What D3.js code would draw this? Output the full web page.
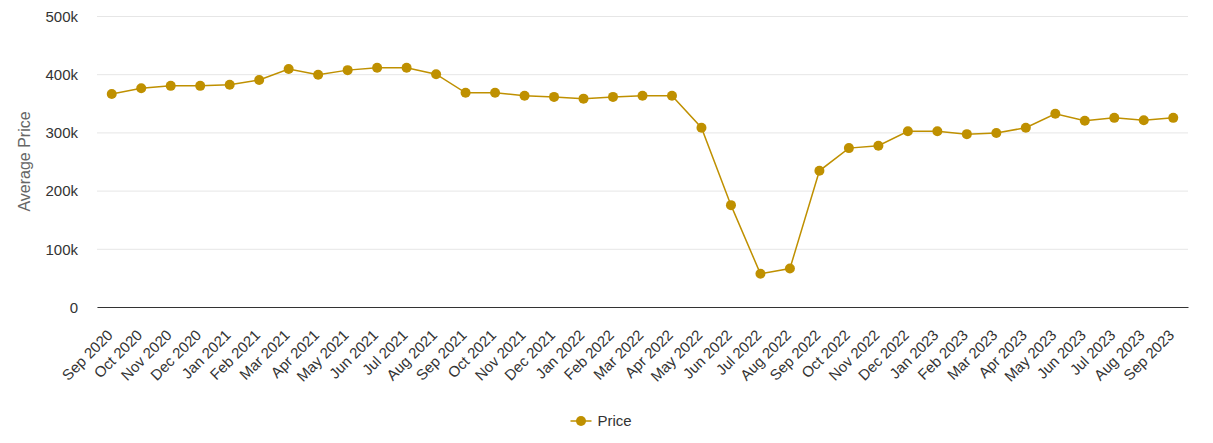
<!DOCTYPE html>
<html lang="en">
<head>
    <meta charset="UTF-8">
    <title>Average Price</title>
    <style>
        body { margin: 0; background: #fff; }
        text { font-family: "Liberation Sans", Arial, sans-serif; }
        .tick text { font-size: 15px; fill: #333; }
        .axis-label { font-size: 16px; fill: #666; }
    </style>
</head>
<body>
    <svg width="1213" height="443"></svg>

    <script src="https://d3js.org/d3.v7.min.js"></script>
    <script>
        const months = [
            'Sep 2020', 'Oct 2020', 'Nov 2020', 'Dec 2020', 'Jan 2021', 'Feb 2021',
            'Mar 2021', 'Apr 2021', 'May 2021', 'Jun 2021', 'Jul 2021', 'Aug 2021',
            'Sep 2021', 'Oct 2021', 'Nov 2021', 'Dec 2021', 'Jan 2022', 'Feb 2022',
            'Mar 2022', 'Apr 2022', 'May 2022', 'Jun 2022', 'Jul 2022', 'Aug 2022',
            'Sep 2022', 'Oct 2022', 'Nov 2022', 'Dec 2022', 'Jan 2023', 'Feb 2023',
            'Mar 2023', 'Apr 2023', 'May 2023', 'Jun 2023', 'Jul 2023', 'Aug 2023',
            'Sep 2023'
        ];

        const prices = [
            366000, 376000, 380000, 380000, 382000, 390000,
            409000, 399000, 407000, 411000, 411000, 400000,
            368000, 368000, 363000, 361000, 358000, 361000,
            363000, 363000, 308000, 175000, 57000, 66000,
            234000, 273000, 277000, 302000, 302000, 297000,
            299000, 308000, 332000, 320000, 325000, 321000,
            325000
        ];

        const yTicks = [0, 100000, 200000, 300000, 400000, 500000];
        const yTickLabels = ['0', '100k', '200k', '300k', '400k', '500k'];

        const color = '#bf9000';
        const margin = { left: 97, right: 25, top: 16, bottom: 136 };

        const svg = d3.select('svg');
        const width = +svg.attr('width');
        const height = +svg.attr('height');
        const innerWidth = width - margin.left - margin.right;
        const innerHeight = height - margin.top - margin.bottom;

        const data = months.map(function (m, i) {
            return { month: m, price: prices[i] };
        });

        const xScale = d3.scaleBand()
            .domain(months)
            .range([0, innerWidth]);

        const yScale = d3.scaleLinear()
            .domain([0, 500000])
            .range([innerHeight, 0]);

        const xPos = function (d) {
            return xScale(d.month) + xScale.bandwidth() / 2;
        };

        const group = svg.append('g')
            .attr('transform', 'translate(' + margin.left + ' ' + margin.top + ')');

        // gridlines + y labels
        const yAxis = d3.axisLeft(yScale)
            .tickValues(yTicks)
            .tickFormat(function (d, i) { return yTickLabels[i]; })
            .tickSize(-innerWidth)
            .tickPadding(19);

        const yAxisG = group.append('g').call(yAxis);
        yAxisG.select('.domain').remove();
        yAxisG.selectAll('.tick line').attr('stroke', '#e6e6e6');
        yAxisG.selectAll('.tick text').attr('dy', '0.35em');

        yAxisG.append('text')
            .attr('class', 'axis-label')
            .attr('transform', 'rotate(-90)')
            .attr('x', -innerHeight / 2)
            .attr('y', -67)
            .style('text-anchor', 'middle')
            .text('Average Price');

        // x axis, labels turned 45 degrees
        const xAxis = d3.axisBottom(xScale).tickSize(0);
        const xAxisG = group.append('g')
            .attr('transform', 'translate(0 ' + innerHeight + ')')
            .call(xAxis);
        xAxisG.select('.domain').attr('stroke', '#333').attr('stroke-width', 1);
        xAxisG.selectAll('.tick text')
            .style('text-anchor', 'end')
            .attr('x', 0)
            .attr('y', 0)
            .attr('dx', 0)
            .attr('dy', 0)
            .attr('transform', 'translate(2 29) rotate(-45)');

        // line
        const line = d3.line()
            .x(xPos)
            .y(function (d) { return yScale(d.price); });

        group.append('path')
            .datum(data)
            .attr('fill', 'none')
            .attr('stroke', color)
            .attr('stroke-width', 1.5)
            .attr('d', line);

        group.selectAll('circle.pt')
            .data(data)
            .enter()
            .append('circle')
            .attr('class', 'pt')
            .attr('cx', xPos)
            .attr('cy', function (d) { return yScale(d.price); })
            .attr('r', 5)
            .attr('fill', color);

        // legend
        const legend = svg.append('g')
            .attr('transform', 'translate(' + (width / 2 - 36) + ' ' + 421 + ')');
        legend.append('line')
            .attr('x1', 0).attr('x2', 21)
            .attr('stroke', color).attr('stroke-width', 1.5);
        legend.append('circle')
            .attr('cx', 10.5).attr('r', 5).attr('fill', color);
        legend.append('text')
            .attr('x', 27)
            .attr('dy', '0.35em')
            .style('font-size', '15px')
            .attr('fill', '#333')
            .text('Price');
    </script>
</body>
</html>
